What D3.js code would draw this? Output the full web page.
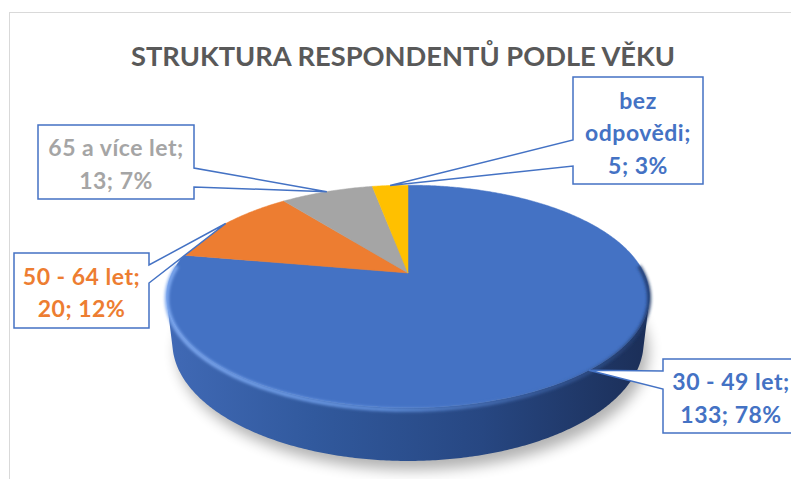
<!DOCTYPE html>
<html>
<head>
<meta charset="utf-8">
<script src="https://cdn.jsdelivr.net/npm/d3@7"></script>
<style>
  html, body { margin: 0; padding: 0; background: #fff; }
  svg { display: block; font-family: Lato, 'Open Sans', sans-serif; }
</style>
</head>
<body>
<div id="chart"></div>
<script>
// Data
const chartTitle = 'STRUKTURA RESPONDENTŮ PODLE VĚKU';
const categories = ['30 - 49 let', '50 - 64 let', '65 a více let', 'bez odpovědi'];
const counts = [133, 20, 13, 5];
const percents = [78, 12, 7, 3];
const sliceColors = ['#4472C4', '#ED7D31', '#A5A5A5', '#FFC000'];
const labelColors = ['#4472C4', '#ED7D31', '#A5A5A5', '#4472C4'];

const width = 791;
const height = 479;

// 3D view of the pie (perspective projection of a tilted disk)
const view = { cx: 408, cy: 273, tilt: 26.8 * Math.PI / 180, dist: 4.23, focal: 998, depth: 0.22 };

// Callout boxes, the side the pointer leaves from and its base on that side
const callouts = [
  { x0: 663, y0: 359, x1: 800, y1: 433, side: 'left', b0: 371, b1: 389 },
  { x0: 14, y0: 253, x1: 149, y1: 328, side: 'right', b0: 265, b1: 283 },
  { x0: 38, y0: 125, x1: 194, y1: 199, side: 'right', b0: 168, b1: 187 },
  { x0: 573, y0: 77, x1: 703, y1: 184, side: 'left', b0: 140, b1: 166, wrap: true }
];

function project(angle, level) {
  const u = Math.sin(angle), w = Math.cos(angle);
  const s = Math.sin(view.tilt), c = Math.cos(view.tilt);
  const z = view.dist - level * s + w * c;
  const up = level * c + w * s;
  return [view.cx + view.focal * u / z, view.cy - view.focal * up / z];
}

function arcPoints(a0, a1, level) {
  const n = Math.max(2, Math.ceil(Math.abs(a1 - a0) / 0.01));
  return d3.range(n + 1).map(i => project(a0 + (a1 - a0) * i / n, level));
}

const svg = d3.select('#chart')
  .append('svg')
  .attr('width', width)
  .attr('height', height);

const defs = svg.append('defs');

defs.append('filter').attr('id', 'shadowBlur')
  .attr('x', '-20%').attr('y', '-20%').attr('width', '140%').attr('height', '140%')
  .append('feGaussianBlur').attr('stdDeviation', 7);

defs.append('filter').attr('id', 'rimBlur')
  .append('feGaussianBlur').attr('stdDeviation', 1.6);

const sideGrad = defs.append('linearGradient')
  .attr('id', 'sideGrad')
  .attr('gradientUnits', 'userSpaceOnUse')
  .attr('x1', 170).attr('x2', 650).attr('y1', 0).attr('y2', 0);
[[0, '#4069b5'], [0.3, '#31599d'], [0.65, '#274782'], [1, '#1b2e57']].forEach(([o, c]) => {
  sideGrad.append('stop').attr('offset', o).attr('stop-color', c);
});

const rimGrad = defs.append('linearGradient')
  .attr('id', 'rimGrad')
  .attr('gradientUnits', 'userSpaceOnUse')
  .attr('x1', 170).attr('x2', 650).attr('y1', 0).attr('y2', 0);
[[0, '#7ea9f0', 1], [0.45, '#6595e2', 0.9], [0.8, '#3f67ad', 0.6], [1, '#1f3766', 0.9]].forEach(([o, c, op]) => {
  rimGrad.append('stop').attr('offset', o).attr('stop-color', c).attr('stop-opacity', op);
});

// Chart area border
svg.append('rect')
  .attr('x', 9.5).attr('y', 12.5)
  .attr('width', 820).attr('height', 520)
  .attr('fill', 'none')
  .attr('stroke', '#d9d9d9');

// Title
svg.append('text')
  .attr('x', 403)
  .attr('y', 66)
  .attr('text-anchor', 'middle')
  .attr('font-size', 27)
  .attr('font-weight', 700)
  .attr('fill', '#595959')
  .attr('textLength', 544)
  .attr('lengthAdjust', 'spacingAndGlyphs')
  .text(chartTitle);

const pie = d3.pie().sort(null).startAngle(0).endAngle(2 * Math.PI);
const arcs = pie(counts);
const line = d3.line();
const bottom = -view.depth;

const pieG = svg.append('g').attr('class', 'pie');

// Soft shadow below the disk
pieG.append('path')
  .attr('d', line(arcPoints(0, 2 * Math.PI, bottom)) + 'Z')
  .attr('transform', 'translate(5,9)')
  .attr('fill', '#000')
  .attr('opacity', 0.3)
  .attr('filter', 'url(#shadowBlur)');

// Visible part of the outer wall
const thr = Math.acos(-1 / (view.dist * Math.cos(view.tilt)));
arcs.forEach((d, i) => {
  const a0 = Math.max(d.startAngle, thr);
  const a1 = Math.min(d.endAngle, 2 * Math.PI - thr);
  if (a1 <= a0) return;
  const pts = arcPoints(a0, a1, 0).concat(arcPoints(a1, a0, bottom));
  pieG.append('path')
    .attr('d', line(pts) + 'Z')
    .attr('fill', i === 0 ? 'url(#sideGrad)' : d3.color(sliceColors[i]).darker(0.8));
});

// Top faces
pieG.selectAll('path.slice')
  .data(arcs)
  .join('path')
  .attr('class', 'slice')
  .attr('d', d => line([[view.cx, view.cy]].concat(arcPoints(d.startAngle, d.endAngle, 0))) + 'Z')
  .attr('fill', (d, i) => sliceColors[i])
  .attr('stroke', (d, i) => sliceColors[i])
  .attr('stroke-width', 0.5);

// Bevel highlight along the front rim
pieG.append('path')
  .attr('d', line(arcPoints(thr - 0.35, Math.min(arcs[0].endAngle, 2 * Math.PI - thr + 0.35), -0.008)))
  .attr('fill', 'none')
  .attr('stroke', 'url(#rimGrad)')
  .attr('stroke-width', 4)
  .attr('filter', 'url(#rimBlur)');

// Callouts
const labelG = svg.append('g').attr('class', 'labels');
const lineGap = 32.5;

arcs.forEach((d, i) => {
  const c = callouts[i];
  const tip = project((d.startAngle + d.endAngle) / 2, 0);
  let p;
  if (c.side === 'left') {
    p = `M${c.x0},${c.y0}H${c.x1}V${c.y1}H${c.x0}V${c.b1}L${tip[0]},${tip[1]}L${c.x0},${c.b0}Z`;
  } else {
    p = `M${c.x0},${c.y0}H${c.x1}V${c.b0}L${tip[0]},${tip[1]}L${c.x1},${c.b1}V${c.y1}H${c.x0}Z`;
  }
  labelG.append('path')
    .attr('d', p)
    .attr('fill', '#fff')
    .attr('stroke', '#4472C4')
    .attr('stroke-width', 1.5)
    .attr('stroke-linejoin', 'miter');

  const name = categories[i];
  const lines = c.wrap
    ? name.split(' ').map((w, k, arr) => k === arr.length - 1 ? w + ';' : w)
    : [name + ';'];
  lines.push(`${counts[i]}; ${percents[i]}%`);

  const midX = (c.x0 + Math.min(c.x1, 799)) / 2;
  const midY = (c.y0 + c.y1) / 2 + 1.5;
  const top = midY - (lines.length - 1) * lineGap / 2;

  labelG.append('text')
    .attr('text-anchor', 'middle')
    .attr('font-size', 23)
    .attr('font-weight', 700)
    .attr('letter-spacing', 0.5)
    .attr('fill', labelColors[i])
    .selectAll('tspan')
    .data(lines)
    .join('tspan')
    .attr('x', midX)
    .attr('y', (t, k) => top + k * lineGap)
    .attr('dominant-baseline', 'central')
    .text(t => t);
});
</script>
</body>
</html>
